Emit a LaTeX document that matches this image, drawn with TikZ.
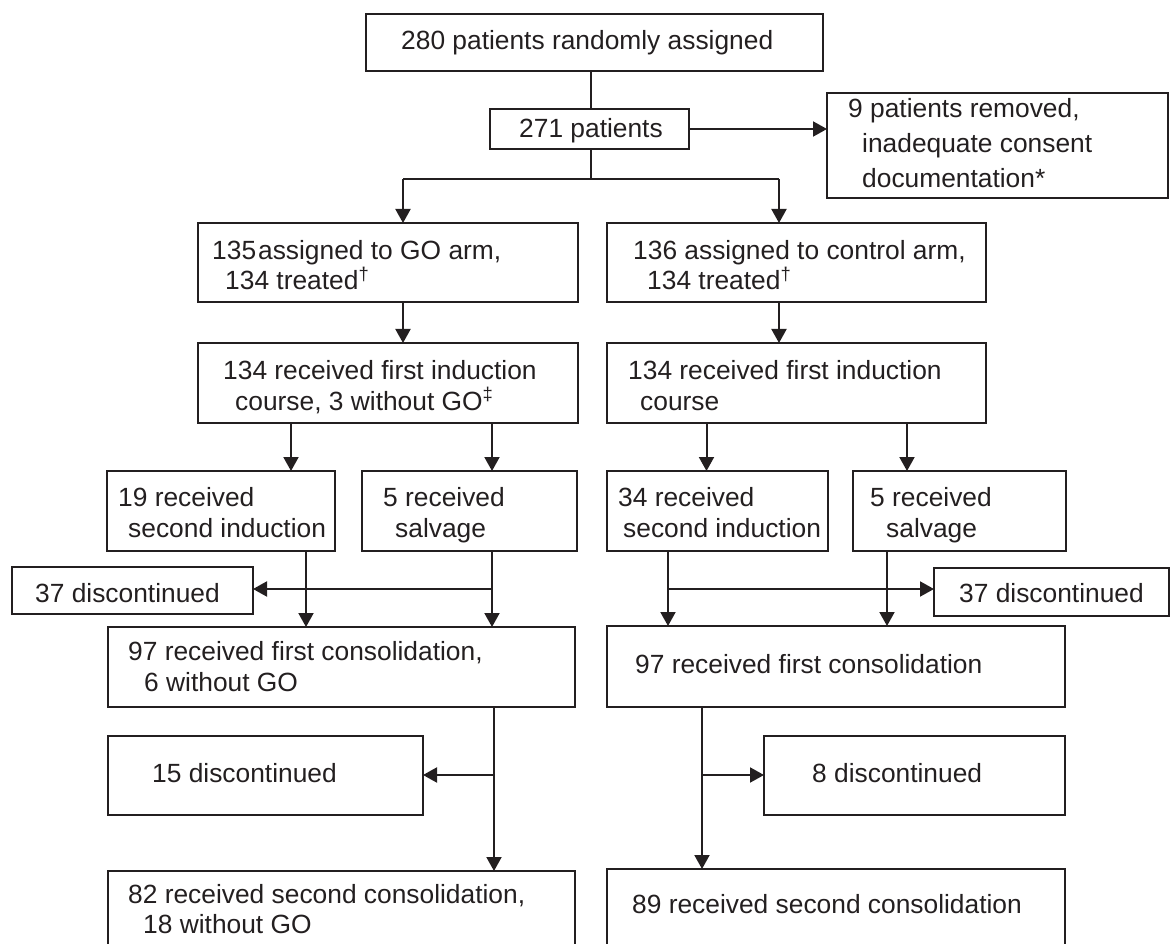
\documentclass[tikz,border=0pt]{standalone}
\usepackage{fontspec}
\setmainfont{Liberation Sans}
\usetikzlibrary{arrows.meta}
\definecolor{ink}{HTML}{231F20}
\begin{document}
\begin{tikzpicture}[x=1pt,y=-1pt,
 box/.style={draw=ink, line width=2pt, rectangle, inner sep=0pt, outer sep=0pt},
 txt/.style={font=\fontsize{26.35pt}{31pt}\selectfont, anchor=base west, inner sep=0pt, text=ink},
 conn/.style={draw=ink, line width=2pt},
 arr/.style={conn, -{Triangle[length=14pt,width=15pt]}}]
\useasboundingbox (0,0) rectangle (1171,944);
\clip (0,0) rectangle (1171,944);
% boxes
\node[box,minimum width=457pt,minimum height=57pt] (A) at (594.5,42.5) {};
\node[box,minimum width=199pt,minimum height=40pt] (B) at (589.5,129) {};
\node[box,minimum width=341pt,minimum height=105pt] (C) at (997.5,145.5) {};
\node[box,minimum width=380pt,minimum height=79pt] (D) at (388,262.5) {};
\node[box,minimum width=379pt,minimum height=79pt] (F) at (796.5,262.5) {};
\node[box,minimum width=380pt,minimum height=80pt] (E) at (388,383) {};
\node[box,minimum width=379pt,minimum height=80pt] (G) at (796.5,383) {};
\node[box,minimum width=228pt,minimum height=80pt] (H) at (221,511) {};
\node[box,minimum width=215pt,minimum height=80pt] (I) at (469.5,511) {};
\node[box,minimum width=221pt,minimum height=80pt] (J) at (717.5,511) {};
\node[box,minimum width=213pt,minimum height=80pt] (K) at (959.5,511) {};
\node[box,minimum width=241pt,minimum height=47pt] (L) at (132.5,590.5) {};
\node[box,minimum width=235pt,minimum height=48pt] (M) at (1051.5,592) {};
\node[box,minimum width=467pt,minimum height=80pt] (N) at (341.5,667) {};
\node[box,minimum width=458pt,minimum height=81pt] (O) at (836,666.5) {};
\node[box,minimum width=315pt,minimum height=79pt] (P) at (265.5,775.5) {};
\node[box,minimum width=301pt,minimum height=79pt] (Q) at (914.5,775.5) {};
\node[box,minimum width=467pt,minimum height=110pt] (R) at (341.5,926) {};
\node[box,minimum width=458pt,minimum height=112pt] (S) at (836,925) {};
% texts
\node[txt] (tA) at (401,50) {280 patients randomly assigned};
\node[txt] (tB) at (519,138) {271 patients};
\node[txt] (tC1) at (848,118) {9 patients removed,};
\node[txt] (tC2) at (862,153) {inadequate consent};
\node[txt] (tC3) at (862,188) {documentation*};
\node[txt] (tD1) at (212,260) {135\hspace{2pt}assigned to GO arm,};
\node[txt] (tD2) at (225,290) {134 treated\textsuperscript{†}};
\node[txt] (tF1) at (633,260) {136 assigned to control arm,};
\node[txt] (tF2) at (647,290) {134 treated\textsuperscript{†}};
\node[txt] (tE1) at (223,379) {134 received first induction};
\node[txt] (tE2) at (235,410) {course, 3 without GO\textsuperscript{‡}};
\node[txt] (tG1) at (628,379) {134 received first induction};
\node[txt] (tG2) at (640,410) {course};
\node[txt] (tH1) at (118,506) {19 received};
\node[txt] (tH2) at (128,537) {second induction};
\node[txt] (tI1) at (383,506) {5 received};
\node[txt] (tI2) at (395,537) {salvage};
\node[txt] (tJ1) at (618,506) {34 received};
\node[txt] (tJ2) at (623,537) {second induction};
\node[txt] (tK1) at (870,506) {5 received};
\node[txt] (tK2) at (886,537) {salvage};
\node[txt] (tL) at (35,602) {37 discontinued};
\node[txt] (tM) at (959,602) {37 discontinued};
\node[txt] (tN1) at (128,660) {97 received first consolidation,};
\node[txt] (tN2) at (144,691) {6 without GO};
\node[txt] (tO) at (635,673) {97 received first consolidation};
\node[txt] (tP) at (152,782) {15 discontinued};
\node[txt] (tQ) at (812,782) {8 discontinued};
\node[txt] (tR1) at (128,903) {82 received second consolidation,};
\node[txt] (tR2) at (143,933) {18 without GO};
\node[txt] (tS) at (632,913) {89 received second consolidation};
% connector coordinates
\coordinate (j1) at (591,179);
\coordinate (dl) at (403,179);
\coordinate (dr) at (779,179);
\coordinate (cH) at (291,0);
\coordinate (cI) at (492,0);
\coordinate (cJ) at (706.5,0);
\coordinate (cK) at (907,0);
\coordinate (cH2) at (306,0);
\coordinate (cJ2) at (668,0);
\coordinate (cK2) at (887,0);
\coordinate (cN) at (494,0);
\coordinate (cO) at (702,0);
\coordinate (jL) at (492,589);
\coordinate (jM) at (668,589);
\coordinate (jP) at (494,775);
\coordinate (jQ) at (702,775);
% connectors
\draw[conn] (A.south -| j1) -- (B.north -| j1);
\draw[conn] (B.south -| j1) -- (j1);
\draw[conn] (dl) -- (dr);
\draw[arr] (dl) -- (dl |- D.north);
\draw[arr] (dr) -- (dr |- F.north);
\draw[arr] (B.east) -- (B.east -| C.west);
\draw[arr] (D.south -| dl) -- (E.north -| dl);
\draw[arr] (F.south -| dr) -- (G.north -| dr);
\draw[arr] (E.south -| cH) -- (H.north -| cH);
\draw[arr] (E.south -| cI) -- (I.north -| cI);
\draw[arr] (G.south -| cJ) -- (J.north -| cJ);
\draw[arr] (G.south -| cK) -- (K.north -| cK);
\draw[arr] (H.south -| cH2) -- (N.north -| cH2);
\draw[arr] (I.south -| cI) -- (N.north -| cI);
\draw[arr] (jL) -- (jL -| L.east);
\draw[arr] (J.south -| cJ2) -- (O.north -| cJ2);
\draw[arr] (K.south -| cK2) -- (O.north -| cK2);
\draw[arr] (jM) -- (jM -| M.west);
\draw[arr] (N.south -| cN) -- (R.north -| cN);
\draw[arr] (jP) -- (jP -| P.east);
\draw[arr] (O.south -| cO) -- (S.north -| cO);
\draw[arr] (jQ) -- (jQ -| Q.west);
\end{tikzpicture}
\end{document}
